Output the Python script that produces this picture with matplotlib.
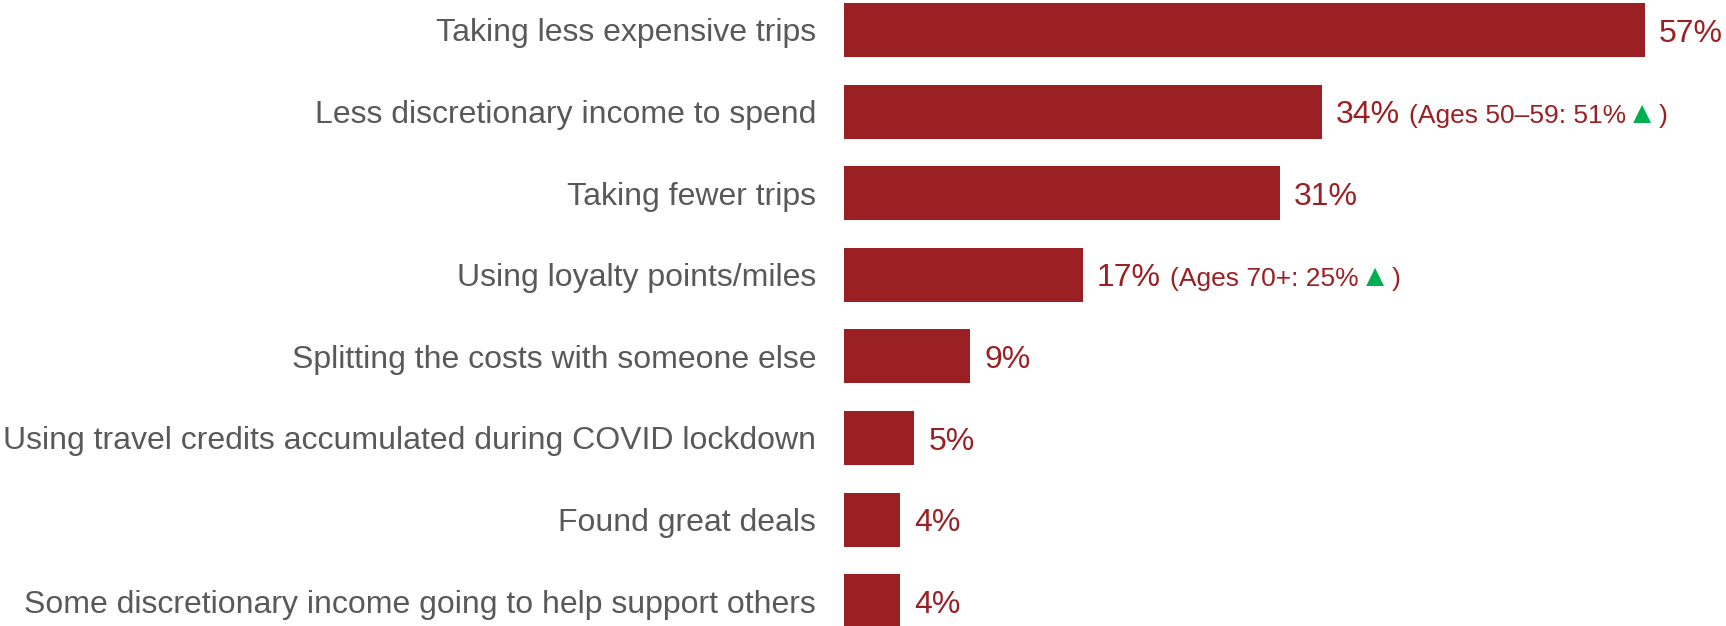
import matplotlib
matplotlib.use("Agg")
import matplotlib.pyplot as plt

plt.rcParams['font.family'] = ['Liberation Sans', 'DejaVu Sans']

categories = [
    "Taking less expensive trips",
    "Less discretionary income to spend",
    "Taking fewer trips",
    "Using loyalty points/miles",
    "Splitting the costs with someone else",
    "Using travel credits accumulated during COVID lockdown",
    "Found great deals",
    "Some discretionary income going to help support others",
]
values = [57, 34, 31, 17, 9, 5, 4, 4]
# subgroup call-outs: (group text, group value) or None
callouts = [None, ("Ages 50\u201359", 51), None, ("Ages 70+", 25), None, None, None, None]

BAR = "#9B2023"
GRAY = "#595959"
GREEN = "#00B050"

W, H = 1726, 626
fig = plt.figure(figsize=(W / 100, H / 100), dpi=100)
left = 844 / W
ax = fig.add_axes([left, 0, 1 - left, 1])

pitch = 81.6
ax.set_xlim(0, (W - 844) / 14.05)
ax.set_ylim((H - 30) / pitch, -30 / pitch)
ax.axis("off")

ypos = list(range(len(categories)))
ax.barh(ypos, values, height=0.66, color=BAR)

fig.canvas.draw()
renderer = fig.canvas.get_renderer()
to_data = ax.transData.inverted()


def px(x, y):
    # display pixels -> data coords
    return to_data.transform((x, y))


for i, (cat, v) in enumerate(zip(categories, values)):
    cx, cy = ax.transData.transform((0, i))
    base = cy - 11.5  # baseline sits below bar centre
    lx, ly = px(cx - 28, base)
    ax.text(lx, ly, cat, ha="right", va="baseline", fontsize=23, color=GRAY)

    ex, _ = ax.transData.transform((v, i))
    vx, vy = px(ex + 14, base)
    t = ax.text(vx, vy, f"{v}%", ha="left", va="baseline", fontsize=23, color=BAR)

    if callouts[i] is not None:
        grp, gv = callouts[i]
        bb = t.get_window_extent(renderer)
        x0, y0 = px(bb.x1 + 9, base)
        t2 = ax.text(x0, y0, f"({grp}: {gv}%", ha="left", va="baseline",
                     fontsize=19, color=BAR)
        bb = t2.get_window_extent(renderer)
        x1, y1 = px(bb.x1 + 1, base)
        t3 = ax.text(x1, y1, "\u25b2", ha="left", va="baseline",
                     fontsize=22, color=GREEN)
        bb = t3.get_window_extent(renderer)
        x2, y2 = px(bb.x1 + 2, base)
        ax.text(x2, y2, ")", ha="left", va="baseline", fontsize=19, color=BAR)

fig.savefig("out.png", dpi=100, facecolor="white")
